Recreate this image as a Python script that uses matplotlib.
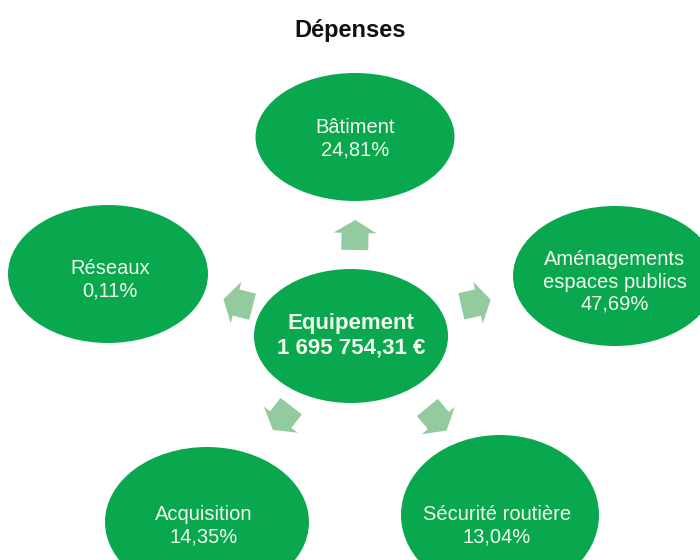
import numpy as np
import matplotlib
matplotlib.use("Agg")
import matplotlib.pyplot as plt
from matplotlib.patches import Ellipse, Polygon

plt.rcParams['font.family'] = ['Liberation Sans', 'DejaVu Sans']

title = "Dépenses"
center_label = "Equipement"
center_value = "1 695 754,31 €"
categories = ["Bâtiment", "Aménagements\nespaces publics", "Sécurité routière", "Acquisition", "Réseaux"]
shares = ["24,81%", "47,69%", "13,04%", "14,35%", "0,11%"]

GREEN = "#0aa84e"
ARROW = "#93cb9f"
TXT = "#f2f8ee"

# layout (pixel coordinates, y down)
center_pos = (351, 336, 194, 134)
outer_pos = [
    (355, 137, 199, 128),
    (615, 276, 204, 140),
    (500, 515, 198, 160),
    (207, 522, 204, 150),
    (108, 274, 200, 138),
]
text_pos = [(355, 139), (615, 282), (497, 526), (204, 526), (110, 280)]
arrow_pos = [(355, 235), (476, 303), (437, 419), (282, 418), (238, 303)]

fig = plt.figure(figsize=(7, 5.6), dpi=100)
ax = fig.add_axes([0, 0, 1, 1])
ax.set_xlim(0, 700)
ax.set_ylim(560, 0)
ax.axis("off")

ax.text(350, 30, title, ha="center", va="center", fontsize=17, fontweight="bold", color="#111111")

def arrow_poly(cx, cy, ang):
    # local shape pointing +x, centered
    L, hl, W, bw = 30, 13, 43, 27
    pts = np.array([[-L/2, -bw/2], [L/2 - hl, -bw/2], [L/2 - hl, -W/2], [L/2, 0],
                    [L/2 - hl, W/2], [L/2 - hl, bw/2], [-L/2, bw/2]])
    c, s = np.cos(ang), np.sin(ang)
    R = np.array([[c, -s], [s, c]])
    return pts @ R.T + np.array([cx, cy])

for (px, py), (ox, oy, w, h) in zip(arrow_pos, outer_pos):
    ang = np.arctan2(oy - center_pos[1], ox - center_pos[0])
    ax.add_patch(Polygon(arrow_poly(px, py, ang), closed=True, facecolor=ARROW, edgecolor="none", zorder=1))

cx, cy, cw, ch = center_pos
ax.add_patch(Ellipse((cx, cy), cw, ch, facecolor=GREEN, edgecolor="none", zorder=2))
ax.text(cx, cy - 13, center_label, ha="center", va="center", fontsize=16, fontweight="bold", color=TXT, zorder=3)
ax.text(cx, cy + 12, center_value, ha="center", va="center", fontsize=16, fontweight="bold", color=TXT, zorder=3)

for cat, val, (ox, oy, w, h), (tx, ty) in zip(categories, shares, outer_pos, text_pos):
    ax.add_patch(Ellipse((ox, oy), w, h, facecolor=GREEN, edgecolor="none", zorder=2))
    lines = cat.split("\n") + [val]
    n = len(lines)
    pitch = 22.5
    for i, ln in enumerate(lines):
        yy = ty + (i - (n - 1) / 2) * pitch
        ax.text(tx, yy, ln, ha="center", va="center", fontsize=14.5, color=TXT, zorder=3)

fig.savefig("out.png", dpi=100)
